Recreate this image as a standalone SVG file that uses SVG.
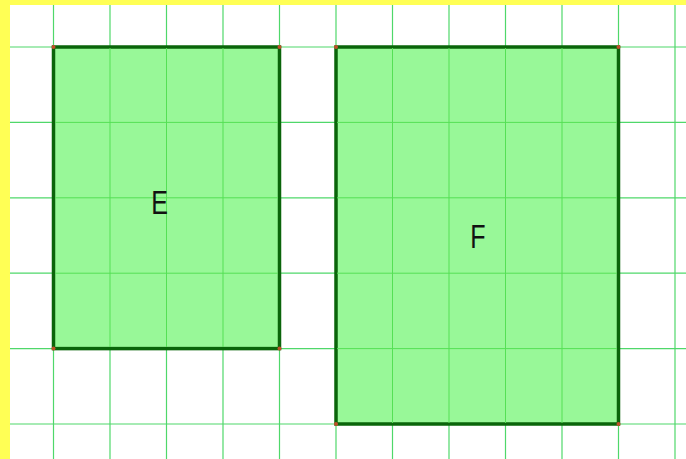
<svg xmlns="http://www.w3.org/2000/svg" width="686" height="459" viewBox="0 0 686 459">
<style>
.grid line{stroke:#4fd86a;stroke-width:1.2}
.shape{fill:#98f898;stroke:#0a650a;stroke-width:3.5}
.gin line{stroke:#55e055;stroke-width:1}
.dot{fill:#c0502a}
.lbl{font-family:"Liberation Sans",Arial,sans-serif;font-size:33px;fill:#111}
</style>
<rect width="686" height="459" fill="#ffffff"/>
<g id="grid" class="grid">
<line x1="53.5" y1="0" x2="53.5" y2="459"/>
<line x1="110" y1="0" x2="110" y2="459"/>
<line x1="166.5" y1="0" x2="166.5" y2="459"/>
<line x1="223" y1="0" x2="223" y2="459"/>
<line x1="279.5" y1="0" x2="279.5" y2="459"/>
<line x1="336" y1="0" x2="336" y2="459"/>
<line x1="392.5" y1="0" x2="392.5" y2="459"/>
<line x1="449" y1="0" x2="449" y2="459"/>
<line x1="505.5" y1="0" x2="505.5" y2="459"/>
<line x1="562" y1="0" x2="562" y2="459"/>
<line x1="618.5" y1="0" x2="618.5" y2="459"/>
<line x1="675" y1="0" x2="675" y2="459"/>
<line x1="0" y1="47" x2="686" y2="47"/>
<line x1="0" y1="122.4" x2="686" y2="122.4"/>
<line x1="0" y1="197.8" x2="686" y2="197.8"/>
<line x1="0" y1="273.2" x2="686" y2="273.2"/>
<line x1="0" y1="348.6" x2="686" y2="348.6"/>
<line x1="0" y1="424" x2="686" y2="424"/>
</g>
<g id="E">
<rect class="shape" x="53.5" y="47" width="226" height="301.6"/>
<g class="gin">
<line x1="110" y1="48" x2="110" y2="347"/>
<line x1="166.5" y1="48" x2="166.5" y2="347"/>
<line x1="223" y1="48" x2="223" y2="347"/>
<line x1="55" y1="122.4" x2="278" y2="122.4"/>
<line x1="55" y1="197.8" x2="278" y2="197.8"/>
<line x1="55" y1="273.2" x2="278" y2="273.2"/>
</g>
<circle class="dot" cx="53.5" cy="47" r="2"/>
<circle class="dot" cx="279.5" cy="47" r="2"/>
<circle class="dot" cx="53.5" cy="348.6" r="2"/>
<circle class="dot" cx="279.5" cy="348.6" r="2"/>
<text class="lbl" transform="translate(159.5,214) scale(0.76,1)" text-anchor="middle">E</text>
</g>
<g id="F">
<rect class="shape" x="336" y="47" width="282.5" height="377"/>
<g class="gin">
<line x1="392.5" y1="48" x2="392.5" y2="423"/>
<line x1="449" y1="48" x2="449" y2="423"/>
<line x1="505.5" y1="48" x2="505.5" y2="423"/>
<line x1="562" y1="48" x2="562" y2="423"/>
<line x1="337" y1="122.4" x2="617" y2="122.4"/>
<line x1="337" y1="197.8" x2="617" y2="197.8"/>
<line x1="337" y1="273.2" x2="617" y2="273.2"/>
<line x1="337" y1="348.6" x2="617" y2="348.6"/>
</g>
<circle class="dot" cx="336" cy="47" r="2"/>
<circle class="dot" cx="618.5" cy="47" r="2"/>
<circle class="dot" cx="336" cy="424" r="2"/>
<circle class="dot" cx="618.5" cy="424" r="2"/>
<text class="lbl" transform="translate(478,248) scale(0.76,1)" text-anchor="middle">F</text>
</g>
<rect x="0" y="0" width="686" height="5" fill="#ffff55"/>
<rect x="0" y="0" width="10" height="459" fill="#ffff55"/>
</svg>
